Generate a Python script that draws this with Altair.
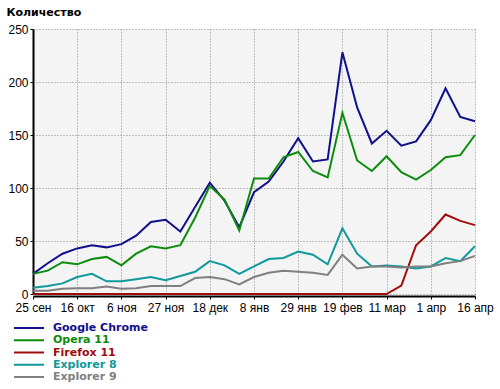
import altair as alt
import pandas as pd

dates = ["25 сен", "2 окт", "9 окт", "16 окт", "23 окт", "30 окт", "6 ноя", "13 ноя",
         "20 ноя", "27 ноя", "4 дек", "11 дек", "18 дек", "25 дек", "1 янв", "8 янв",
         "15 янв", "22 янв", "29 янв", "5 фев", "12 фев", "19 фев", "26 фев", "4 мар",
         "11 мар", "18 мар", "25 мар", "1 апр", "8 апр", "12 апр", "16 апр"]
tick_labels = ["25 сен", "16 окт", "6 ноя", "27 ноя", "18 дек", "8 янв", "29 янв",
               "19 фев", "11 мар", "1 апр", "16 апр"]
y_ticks = [0, 50, 100, 150, 200, 250]

series = ["Google Chrome", "Opera 11", "Firefox 11", "Explorer 8", "Explorer 9"]
colors = ["#10108c", "#0c8c0c", "#a00c0c", "#10999a", "#808080"]

chrome = [19, 29, 38, 43, 46, 44, 47, 55, 68, 70, 59, 82, 105, 88, 63, 96, 106, 125,
          147, 125, 127, 228, 176, 142, 154, 140, 144, 164, 194, 167, 163]
opera = [19, 22, 30, 28, 33, 35, 27, 38, 45, 43, 46, 72, 102, 89, 60, 109, 109, 129,
         134, 116, 110, 171, 126, 116, 130, 115, 108, 117, 129, 131, 150]
firefox = [0, 0, 0, 0, 0, 0, 0, 0, 0, 0, 0, 0, 0, 0, 0, 0, 0, 0, 0, 0, 0, 0, 0, 0, 0,
           8, 46, 59, 75, 69, 65]
ie8 = [6, 7.5, 10, 16, 19, 12, 12, 14, 16, 13, 17, 21, 31, 27, 19, 26, 33, 34, 40, 37,
       28, 62, 38, 26, 27, 26, 24, 26, 34, 31, 45]
ie9 = [3, 3, 5, 5.5, 5.5, 7, 5, 5.5, 7.5, 7.5, 7.5, 15, 16, 14, 9, 16, 20, 22, 21, 20,
       18, 37, 24, 26, 26, 25, 26, 26, 29, 31, 36]

rows = []
for name, vals in zip(series, [chrome, opera, firefox, ie8, ie9]):
    for i, (d, v) in enumerate(zip(dates, vals)):
        rows.append({"i": i, "date": d, "series": name, "value": v})
df = pd.DataFrame(rows)
leg = pd.DataFrame({"series": series})

color = alt.Color("series:N", scale=alt.Scale(domain=series, range=colors), legend=None)

lines = alt.Chart(df).mark_line(strokeWidth=2).encode(
    x=alt.X("date:O", sort=dates, scale=alt.Scale(type="point", padding=0),
            axis=alt.Axis(values=tick_labels, labelAngle=0, title=None, grid=True,
                          gridDash=[1, 2], gridColor="#888888", gridWidth=1,
                          domainColor="black", domainWidth=2, tickColor="black",
                          tickSize=3, tickWidth=1, labelFont="Liberation Sans",
                          labelFontSize=12, labelColor="black", labelPadding=3,
                          offset=2)),
    y=alt.Y("value:Q", scale=alt.Scale(domain=[0, 250], nice=False),
            axis=alt.Axis(values=y_ticks, grid=True, gridDash=[1, 2], gridColor="#888888",
                          gridWidth=1, domainColor="black", domainWidth=2,
                          tickColor="black", tickSize=3, labelFont="Liberation Sans",
                          labelFontSize=12, labelColor="black", labelPadding=2,
                          title="Количество", titleAngle=0, titleX=-27, titleY=-14,
                          titleAlign="left", titleBaseline="alphabetic",
                          titleFont="DejaVu Sans", titleFontSize=11,
                          titleFontWeight="bold", titleColor="black")),
    color=color,
    order=alt.Order("i:Q"),
)

leg_y = alt.Y("series:N", sort=series,
              scale=alt.Scale(type="point", range=[299, 348], padding=0), axis=None)

rules = alt.Chart(leg).mark_rule(strokeWidth=2).encode(
    x=alt.value(-19), x2=alt.value(11), y=leg_y, color=color)

texts = alt.Chart(leg).mark_text(align="left", baseline="middle", font="DejaVu Sans",
                                 fontWeight="bold", fontSize=11).encode(
    x=alt.value(20), y=leg_y, text="series:N", color=color)

chart = alt.layer(lines, rules, texts).resolve_scale(y="independent").properties(
    width=442, height=265,
    autosize=alt.AutoSizeParams(type="none"),
    padding={"left": 33, "top": 29, "right": 25, "bottom": 95},
    background="white",
).configure_view(fill="#f4f4f4", stroke="transparent")

chart.save("out.html", embed_options={"renderer": "svg", "actions": False})
